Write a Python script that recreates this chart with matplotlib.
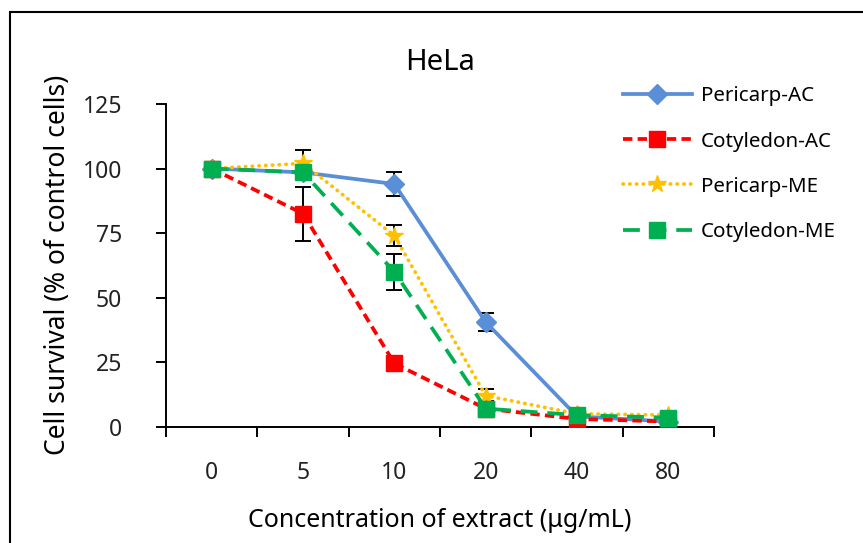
import matplotlib.pyplot as plt
from matplotlib.patches import Rectangle

plt.rcParams['font.family'] = ['Noto Sans', 'DejaVu Sans']

conc = ['0', '5', '10', '20', '40', '80']
peri_ac = [100, 98.5, 94, 40.5, 4, 2]
peri_ac_err = [0, 0, 4.5, 3.5, 0, 0]
coty_ac = [100, 82.5, 24.5, 7, 3, 2]
coty_ac_err = [0, 10.5, 1.5, 1.5, 1, 0.5]
peri_me = [100, 102, 74, 12, 5, 4.5]
peri_me_err = [0, 5, 4, 2.5, 1, 0.5]
coty_me = [100, 98.5, 60, 7, 4.5, 3.5]
coty_me_err = [0, 0, 7, 3, 1, 0.5]

x = list(range(len(conc)))

fig = plt.figure(figsize=(8.63, 5.43), dpi=100)
fig.patches.append(Rectangle((10 / 863, -0.1), 2, 1 - 12 / 543 + 0.1,
                             transform=fig.transFigure, fill=False,
                             edgecolor='black', lw=1.5))
ax = fig.add_axes([0.1924, 0.2142, 0.635, 0.5943])

series = [
    ('Pericarp-AC', peri_ac, peri_ac_err, '#5A8ED6', '-', 'D', 10.5),
    ('Cotyledon-AC', coty_ac, coty_ac_err, '#FF0000', (0, (2.5, 1.4)), 's', 11.5),
    ('Pericarp-ME', peri_me, peri_me_err, '#FFC000', (0, (0.1, 1.7)), '*', 13),
    ('Cotyledon-ME', coty_me, coty_me_err, '#00B050', (0, (4.5, 2.6)), 's', 11),
]
handles = []
for name, vals, err, col, ls, mk, ms in series:
    ax.errorbar(x, vals, yerr=err, fmt='none', ecolor='black', elinewidth=1.4,
                capsize=5.5, capthick=1.4, zorder=2)
    h, = ax.plot(x, vals, color=col, ls=ls, lw=2.7, marker=mk, ms=ms,
                 label=name, zorder=3, dash_capstyle='round' if mk == '*' else 'butt')
    handles.append(h)

ax.set_xlim(-0.5, 5.5)
ax.set_ylim(0, 125)
ax.set_yticks([0, 25, 50, 75, 100, 125])
ax.set_xticks(x)
ax.set_xticklabels(conc)
ax.set_xticks([i - 0.5 for i in range(len(conc) + 1)], minor=True)
ax.tick_params(axis='x', which='major', length=0, labelsize=16.5, pad=25, colors='#222222')
ax.tick_params(axis='x', which='minor', length=7.5, width=1.4)
ax.tick_params(axis='y', length=7.5, width=1.4, labelsize=16.5, pad=24, colors='#222222')
ax.tick_params(axis='both', which='both', color='black')
for s in ['top', 'right']:
    ax.spines[s].set_visible(False)
ax.spines['left'].set_linewidth(1.4)
ax.spines['bottom'].set_linewidth(1.4)

ax.set_ylabel('Cell survival (% of control cells)', fontsize=19, labelpad=8)
ax.set_xlabel('Concentration of extract (\u03bcg/mL)', fontsize=18, labelpad=16)
fig.text(440 / 863, 1 - 62 / 543, 'HeLa', fontsize=21, ha='center', va='center')

fig.legend(handles=handles, loc='upper left', bbox_to_anchor=(604 / 863, 1 - 68 / 543),
           frameon=False, fontsize=14.8, handlelength=3.4, labelspacing=1.22,
           handletextpad=0.4)

fig.savefig('out.png', dpi=100)
